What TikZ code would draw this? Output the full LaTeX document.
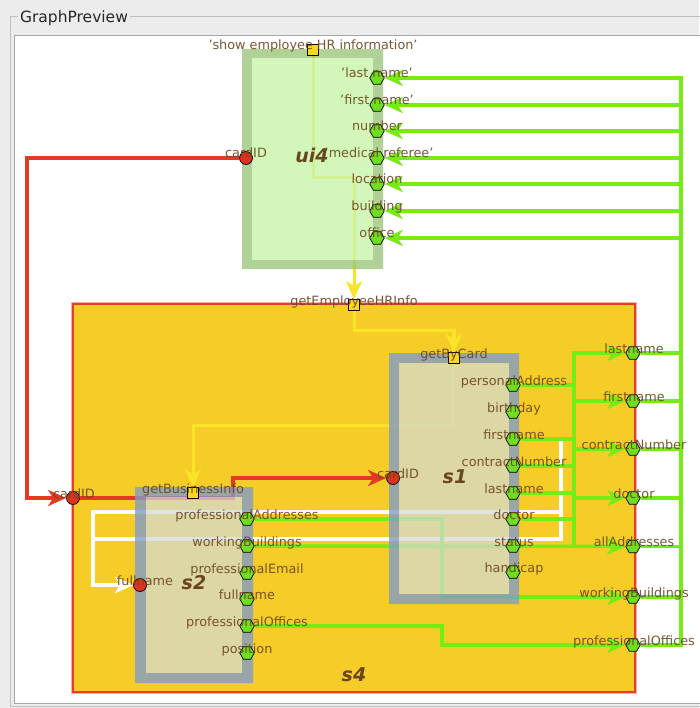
\documentclass[tikz,border=0pt]{standalone}
\usepackage{fontspec}
\setmainfont{DejaVu Sans}
\usetikzlibrary{shapes.geometric,arrows.meta,calc}
\definecolor{winbg}{RGB}{236,236,236}
\definecolor{s4fill}{RGB}{245,205,38}
\definecolor{s4line}{RGB}{232,62,40}
\definecolor{gline}{RGB}{118,236,20}
\definecolor{gport}{RGB}{110,222,30}
\definecolor{rline}{RGB}{228,58,36}
\definecolor{rport}{RGB}{220,50,30}
\definecolor{yline}{RGB}{250,228,40}
\definecolor{yport}{RGB}{250,215,30}
\definecolor{labc}{RGB}{105,70,30}
\definecolor{sring}{RGB}{130,155,200}
\definecolor{sinner}{RGB}{212,218,215}
\definecolor{uring}{RGB}{150,195,115}
\definecolor{uinner}{RGB}{200,245,170}
\pgfdeclarelayer{bg}
\pgfdeclarelayer{edges}
\pgfdeclarelayer{boxes}
\pgfsetlayers{bg,edges,boxes,main}
\tikzset{
  hexport/.style={regular polygon, regular polygon sides=6, minimum size=14.5pt, inner sep=0pt, fill=gport, draw=black, line width=0.7pt},
  inport/.style={circle, minimum size=13pt, inner sep=0pt, fill=rport, draw=black, line width=0.7pt},
  sqport/.style={rectangle, minimum size=11pt, inner sep=0pt, fill=yport, draw=black, line width=0.7pt},
  plab/.style={font=\fontsize{12.8}{14}\selectfont, text=labc, anchor=base, inner sep=0pt, text opacity=0.9},
  blab/.style={font=\fontsize{19}{21}\selectfont\bfseries\itshape, text=labc, inner sep=0pt},
  tip/.style={-{Stealth[length=18pt,width=16pt,inset=5pt]}},
  gedge/.style={draw=gline, line width=3.5pt, tip},
  redge/.style={draw=rline, line width=3.5pt, tip},
  wedge/.style={draw=white, line width=3.5pt, tip},
  yedge/.style={draw=yline, line width=3pt, tip},
}
\begin{document}
\begin{tikzpicture}[x=1pt,y=-1pt]
\useasboundingbox (0,0) rectangle (699,708);
% window and panel
\begin{pgfonlayer}{bg}
\fill[winbg] (0,0) rectangle (699,708);
\draw[black!25, line width=0.8pt] (10.5,16.5) rectangle (720,706);
\fill[white] (14.5,35) rectangle (720,703.5);
\draw[black!35, line width=0.8pt] (14.5,35) rectangle (720,703.5);
\node[fill=winbg, inner sep=2pt, anchor=base, font=\fontsize{15.5}{17}\selectfont, text=black!85] (title) at (74,22.5) {GraphPreview};
% s4 box
\draw[s4line!40, line width=4pt] (73,304) rectangle (635,692);
\fill[s4fill] (73,304) rectangle (635,692);
\draw[s4line, line width=2pt] (73,304) rectangle (635,692);
\end{pgfonlayer}
% sub-boxes (semi-transparent, over the edges)
\begin{pgfonlayer}{boxes}
\fill[uring, fill opacity=0.75, even odd rule] (242,49) rectangle (383,269) (252,58) rectangle (373,260);
\fill[uinner, fill opacity=0.8] (252,58) rectangle (373,260);
\fill[sring, fill opacity=0.8, even odd rule] (389,353) rectangle (519,604) (399,363) rectangle (509,594);
\fill[sinner, fill opacity=0.72] (399,363) rectangle (509,594);
\fill[sring, fill opacity=0.8, even odd rule] (135,487) rectangle (253,683) (146,497) rectangle (242,673);
\fill[sinner, fill opacity=0.72] (146,497) rectangle (242,673);
\end{pgfonlayer}
% box labels
\node[blab] (ui4lab) at (312,155) {ui4};
\node[blab] (s1lab) at (455,477) {s1};
\node[blab] (s2lab) at (194,583) {s2};
\node[blab] (s4lab) at (354,675) {s4};
% ---- ports: ui4
\node[sqport] (ushow) at (313,50) {};
\node[inport] (ucard) at (246,158) {};
\node[hexport] (u1) at (377,78) {};
\node[hexport] (u2) at (377,105) {};
\node[hexport] (u3) at (377,131) {};
\node[hexport] (u4) at (377,158) {};
\node[hexport] (u5) at (377,184) {};
\node[hexport] (u6) at (377,211) {};
\node[hexport] (u7) at (377,238) {};
% ---- ports: s4
\node[sqport] (s4get) at (354,305) {};
\node[inport] (s4card) at (73,498) {};
\node[hexport] (s4ln) at (633,353) {};
\node[hexport] (s4fn) at (633,401) {};
\node[hexport] (s4cn) at (633,449) {};
\node[hexport] (s4dr) at (633,498) {};
\node[hexport] (s4aa) at (633,546.5) {};
\node[hexport] (s4wb) at (633,597) {};
\node[hexport] (s4po) at (633,645) {};
% ---- ports: s1
\node[sqport] (s1get) at (454,358) {};
\node[inport] (s1card) at (393,478) {};
\node[hexport] (s1pa) at (513,385) {};
\node[hexport] (s1bd) at (513,412) {};
\node[hexport] (s1fn) at (513,439) {};
\node[hexport] (s1cn) at (513,466) {};
\node[hexport] (s1ln) at (513,493) {};
\node[hexport] (s1dr) at (513,519) {};
\node[hexport] (s1st) at (513,546) {};
\node[hexport] (s1hc) at (513,572) {};
% ---- ports: s2
\node[sqport] (s2get) at (193,493) {};
\node[inport] (s2full) at (140,585) {};
\node[hexport] (s2pa) at (247,519) {};
\node[hexport] (s2wb) at (247,546) {};
\node[hexport] (s2pe) at (247,573) {};
\node[hexport] (s2fn) at (247,599) {};
\node[hexport] (s2po) at (247,626) {};
\node[hexport] (s2pos) at (247,653) {};
% ---- port labels
\node[plab] (lushow) at (313,50) {'show employee HR information'};
\node[plab] (lucard) at (246,158) {cardID};
\node[plab] (lu1) at (377,78) {'last name'};
\node[plab] (lu2) at (377,105) {'first name'};
\node[plab] (lu3) at (377,131) {number};
\node[plab] (lu4) at (379,158) {'medical referee'};
\node[plab] (lu5) at (377,184) {location};
\node[plab] (lu6) at (377,211) {building};
\node[plab] (lu7) at (377,238) {office};
\node[plab] (ls4get) at (354,305) {getEmployeeHRInfo};
\node[plab] (ls4card) at (74,498) {cardID};
\node[plab] (ls4ln) at (634,353) {lastname};
\node[plab] (ls4fn) at (634,401) {firstname};
\node[plab] (ls4cn) at (634,449) {contractNumber};
\node[plab] (ls4dr) at (634,498) {doctor};
\node[plab] (ls4aa) at (634,546.5) {allAddresses};
\node[plab] (ls4wb) at (634,597) {workingBuildings};
\node[plab] (ls4po) at (634,645) {professionalOffices};
\node[plab] (ls1get) at (454,358) {getByCard};
\node[plab] (ls1card) at (398,478) {cardID};
\node[plab] (ls1pa) at (514,385) {personalAddress};
\node[plab] (ls1bd) at (514,412) {birthday};
\node[plab] (ls1fn) at (514,439) {firstname};
\node[plab] (ls1cn) at (514,466) {contractNumber};
\node[plab] (ls1ln) at (514,493) {lastname};
\node[plab] (ls1dr) at (514,519) {doctor};
\node[plab] (ls1st) at (514,546) {status};
\node[plab] (ls1hc) at (514,572) {handicap};
\node[plab] (ls2get) at (193,493) {getBusinessInfo};
\node[plab] (ls2full) at (145,585) {fullname};
\node[plab] (ls2pa) at (247,519) {professionalAddresses};
\node[plab] (ls2wb) at (247,546) {workingBuildings};
\node[plab] (ls2pe) at (247,573) {professionalEmail};
\node[plab] (ls2fn) at (247,599) {fullname};
\node[plab] (ls2po) at (247,626) {professionalOffices};
\node[plab] (ls2pos) at (247,653) {position};
% ---- routing coordinates
\coordinate (rx) at (27,0);
\coordinate (r2) at (233,0);
\coordinate (y1) at (0,178);
\coordinate (y2) at (0,330);
\coordinate (y3) at (453,425);
\coordinate (w1) at (561,512);
\coordinate (w1l) at (93,512);
\coordinate (w2) at (561,539);
\coordinate (w2l) at (93,539);
\coordinate (t1) at (574,0);
\coordinate (t2) at (681,0);
\coordinate (g1) at (442,0);
% ---- edges
\begin{pgfonlayer}{edges}
% yellow
\draw[yedge] (ushow) -- (ushow |- y1) -| (s4get);
\draw[yedge] (s4get) -- (s4get |- y2) -| (s1get);
\draw[yedge] (s4get) -- (s4get |- y2) -| (y3) -| (s2get);
% red
\draw[redge] (ucard) -- (ucard -| rx) |- (s4card);
\draw[redge] (s4card) -- (s4card -| r2) |- (s1card);
% white
\draw[wedge] (s1fn) -- (s1fn -| w1) -- (w1) -- (w1l) |- (s2full);
\draw[wedge] (s1ln) -- (s1ln -| w2) -- (w2) -- (w2l) |- (s2full);
% green inside s4
\draw[gedge] (s2pa) -- (s2pa -| g1) |- (s4wb);
\draw[gedge] (s2po) -- (s2po -| g1) |- (s4po);
\draw[gedge] (s2wb) -- (s4aa);
\draw[gedge] (s1ln) -- (s1ln -| t1) |- (s4ln);
\draw[gedge] (s1fn) -- (s1fn -| t1) |- (s4fn);
\draw[gedge] (s1cn) -- (s1cn -| t1) |- (s4cn);
\draw[gedge] (s1dr) -- (s1dr -| t1) |- (s4dr);
\draw[gedge] (s1pa) -- (s1pa -| t1) |- (s4aa);
% green to ui4
\draw[gedge] (s4ln) -- (s4ln -| t2) |- (u1);
\draw[gedge] (s4fn) -- (s4fn -| t2) |- (u2);
\draw[gedge] (s4cn) -- (s4cn -| t2) |- (u3);
\draw[gedge] (s4dr) -- (s4dr -| t2) |- (u4);
\draw[gedge] (s4aa) -- (s4aa -| t2) |- (u5);
\draw[gedge] (s4wb) -- (s4wb -| t2) |- (u6);
\draw[gedge] (s4po) -- (s4po -| t2) |- (u7);
\end{pgfonlayer}
\end{tikzpicture}
\end{document}
